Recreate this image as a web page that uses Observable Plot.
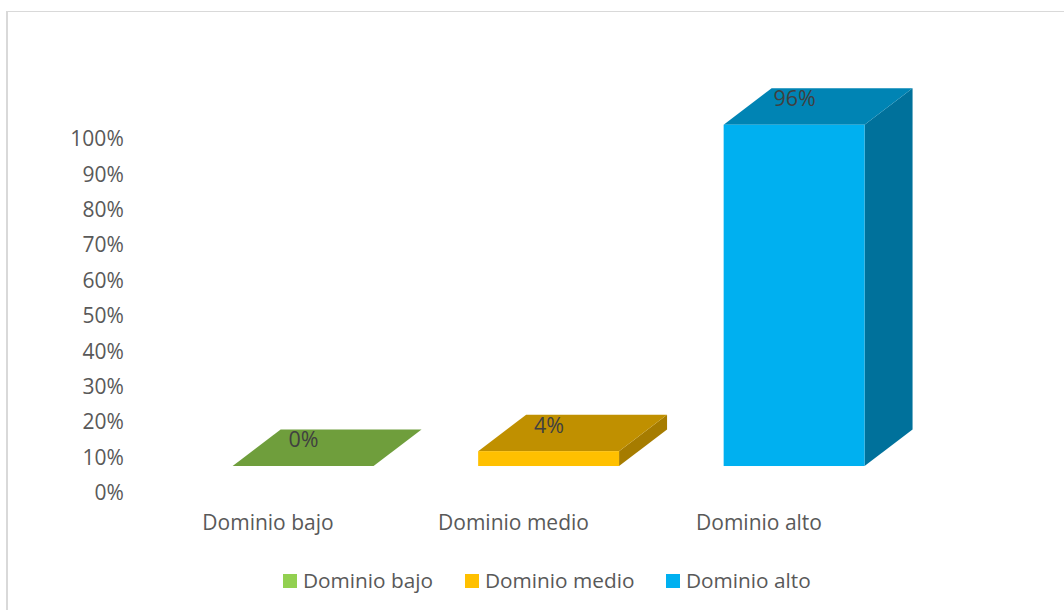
<!DOCTYPE html>
<html><head><meta charset="utf-8">
<script src="https://cdn.jsdelivr.net/npm/d3@7"></script>
<script src="https://cdn.jsdelivr.net/npm/@observablehq/plot@0.6"></script>
<style>
html,body{margin:0;padding:0;background:#fff;overflow:hidden}
#wrap{position:relative;width:1064px;height:610px;overflow:hidden;font-family:"Open Sans",sans-serif}
#frame{position:absolute;left:6px;top:11px;width:1100px;height:700px;border-left:2px solid #d9d9d9;border-top:1.5px solid #d9d9d9;box-sizing:border-box}
#chart{position:absolute;left:0;top:0}
#legend{position:absolute;left:0;top:567px;height:26px;width:1064px;font-size:20.8px;color:#595959;line-height:26px}
#legend span{position:absolute;top:0;white-space:nowrap}
#legend i{position:absolute;top:7px;width:14px;height:14px}
</style></head>
<body><div id="wrap"><div id="frame"></div><div id="chart"></div><div id="legend"></div></div>
<script>
const categories = ["Dominio bajo", "Dominio medio", "Dominio alto"];
const labels = ["0%", "4%", "96%"];
const heights = [0, 4.2, 96.4];
const frontColors = ["#92d050", "#ffc000", "#00b0f0"];
const topColors = ["#6f9e3c", "#c09000", "#0084b4"];
const sideColors = ["#587e30", "#a67c00", "#00719b"];
const yTicks = [0, 10, 20, 30, 40, 50, 60, 70, 80, 90, 100];
const legendSwatchX = [283, 465, 666];

const base = 7.34, offset = 0.143, half = 0.287, depthX = 0.1955, depthY = 10.3;
const bars = categories.map((name, i) => ({
  name, i, label: labels[i], h: heights[i],
  xl: i + offset - half, xr: i + offset + half,
  front: frontColors[i], top: topColors[i], side: sideColors[i]
}));
const topPts = bars.flatMap(b => [
  {y: base + b.h, x1: b.xl, x2: b.xr, fill: b.top},
  {y: base + b.h + depthY, x1: b.xl + depthX, x2: b.xr + depthX, fill: b.top}
]);
const sidePts = bars.filter(b => b.h > 0).flatMap(b => [
  {x: b.xr, y1: base, y2: base + b.h, fill: b.side},
  {x: b.xr + depthX, y1: base + depthY, y2: base + b.h + depthY, fill: b.side}
]);

const plot = Plot.plot({
  width: 1064, height: 560,
  marginLeft: 145.25, marginRight: 182.25, marginTop: 138, marginBottom: 68,
  style: {background: "transparent", fontFamily: '"Open Sans",sans-serif', overflow: "visible"},
  x: {domain: [-0.5, 2.5]},
  y: {domain: [0, 100]},
  color: {type: "identity"},
  marks: [
    Plot.axisY({ticks: yTicks, tickSize: 0, tickPadding: 22, dy: 1, tickFormat: d => d + "%", label: null, fontSize: 21, fill: "#595959"}),
    Plot.axisX({ticks: [0, 1, 2], tickSize: 0, tickPadding: 23, dx: -0.5, tickFormat: d => categories[d], label: null, fontSize: 21, fill: "#595959"}),
    Plot.areaY(sidePts, {x: "x", y1: "y1", y2: "y2", fill: "fill"}),
    Plot.areaX(topPts, {y: "y", x1: "x1", x2: "x2", fill: "fill"}),
    Plot.rect(bars.filter(b => b.h > 0), {x1: "xl", x2: "xr", y1: () => base, y2: d => base + d.h, fill: "front"}),
    Plot.text(bars, {x: d => d.i + offset, y: d => base + d.h, text: "label", dy: -26, fontSize: 21.5, fill: "#404040"})
  ]
});
document.getElementById("chart").appendChild(plot);

const legend = document.getElementById("legend");
categories.forEach((name, i) => {
  const sw = document.createElement("i");
  sw.style.left = legendSwatchX[i] + "px";
  sw.style.background = frontColors[i];
  const tx = document.createElement("span");
  tx.style.left = (legendSwatchX[i] + 20) + "px";
  tx.textContent = name;
  legend.append(sw, tx);
});
</script></body></html>
